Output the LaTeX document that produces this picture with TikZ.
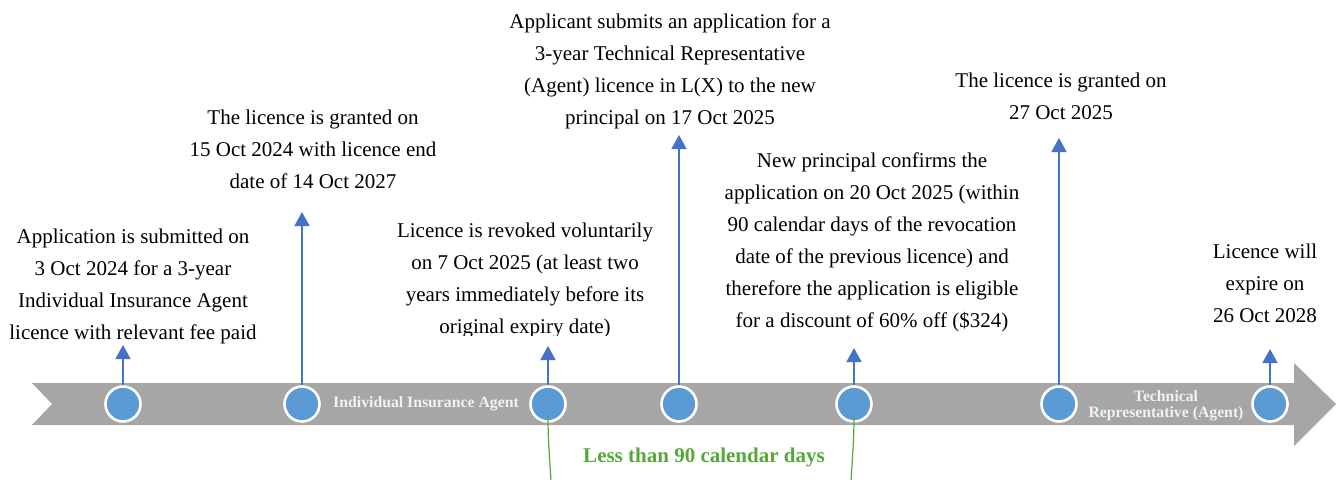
\documentclass[tikz,border=0pt]{standalone}
\usepackage{fontspec}
\setmainfont{Liberation Serif}
\usetikzlibrary{arrows.meta}
\definecolor{bandgray}{HTML}{A6A6A6}
\definecolor{dotblue}{HTML}{5B9BD5}
\definecolor{pinblue}{HTML}{4472C4}
\definecolor{spangreen}{RGB}{86,168,56}
\definecolor{bandtext}{HTML}{F2F2F2}
\tikzset{
  event/.style={circle, fill=dotblue, draw=white, line width=2.6pt, minimum size=35pt, inner sep=0pt},
  pin/.style={draw=pinblue, line width=1.5pt, -{Triangle[length=14pt,width=15pt]}},
  note/.style={anchor=north, inner sep=0pt, align=center,
    font=\fontsize{21}{32}\selectfont},
  phase/.style={inner sep=0pt, align=center, text=bandtext,
    font=\fontsize{15.75}{16.5}\selectfont\bfseries},
  span/.style={draw=spangreen, line width=1.2pt},
}
\begin{document}
\begin{tikzpicture}[x=1pt, y=-1pt]
\useasboundingbox (0,0) rectangle (1340,479);

% timeline band with notched tail and arrow head
\fill[bandgray] (32,383) -- (1294,383) -- (1294,363) -- (1336,404) -- (1294,446)
  -- (1294,425) -- (32,425) -- (52,404) -- cycle;

% phase labels on the band
\node[phase] (ph1) at (426,404) {Individual Insurance Agent};
\node[phase] (ph2) at (1166,406) {Technical\\Representative (Agent)};

% events
\node[event] (e1) at (123,404) {};
\node[event] (e2) at (302,404) {};
\node[event] (e3) at (548,404) {};
\node[event] (e4) at (679,404) {};
\node[event] (e5) at (854,404) {};
\node[event] (e6) at (1059,404) {};
\node[event] (e7) at (1270,404) {};

% pin tips
\coordinate (t1) at (123,345);
\coordinate (t2) at (302,212);
\coordinate (t3) at (548,346);
\coordinate (t4) at (679,135);
\coordinate (t5) at (854,348);
\coordinate (t6) at (1059,138);
\coordinate (t7) at (1270,349);

\foreach \i in {1,...,7} {\draw[pin] (e\i.north) -- (t\i);}

% event descriptions
\node[note] (n1) at (133,228.7) {Application is submitted on\\3 Oct 2024 for a 3-year\\Individual Insurance Agent\\licence with relevant fee paid};
\node[note] (n2) at (313,109.7) {The licence is granted on\\15 Oct 2024 with licence end\\date of 14 Oct 2027};
\begin{scope}
  \clip (380,200) rectangle (680,335);
  \node[note] (n3) at (525,222.7) {Licence is revoked voluntarily\\on 7 Oct 2025 (at least two\\years immediately before its\\original expiry date)};
\end{scope}
\node[note] (n4) at (670,13.7) {Applicant submits an application for a\\3-year Technical Representative\\(Agent) licence in L(X) to the new\\principal on 17 Oct 2025};
\node[note] (n5) at (872,152.7) {New principal confirms the\\application on 20 Oct 2025 (within\\90 calendar days of the revocation\\date of the previous licence) and\\therefore the application is eligible\\for a discount of 60\% off (\$324)};
\node[note] (n6) at (1061,72.7) {The licence is granted on\\27 Oct 2025};
\node[note] (n7) at (1265,243.7) {Licence will\\expire on\\26 Oct 2028};

% span between revocation and confirmation
\coordinate (s1) at (551,482);
\coordinate (s2) at (851,482);
\draw[span] ([yshift=8pt]e3.south) .. controls +(0,30) and +(-1,-22) .. (s1);
\draw[span] ([yshift=8pt]e5.south) .. controls +(0,30) and +(1,-22) .. (s2);
\node[text=spangreen, font=\fontsize{21}{25}\selectfont\bfseries, anchor=base] (gap) at (704,462) {Less than 90 calendar days};
\end{tikzpicture}
\end{document}
